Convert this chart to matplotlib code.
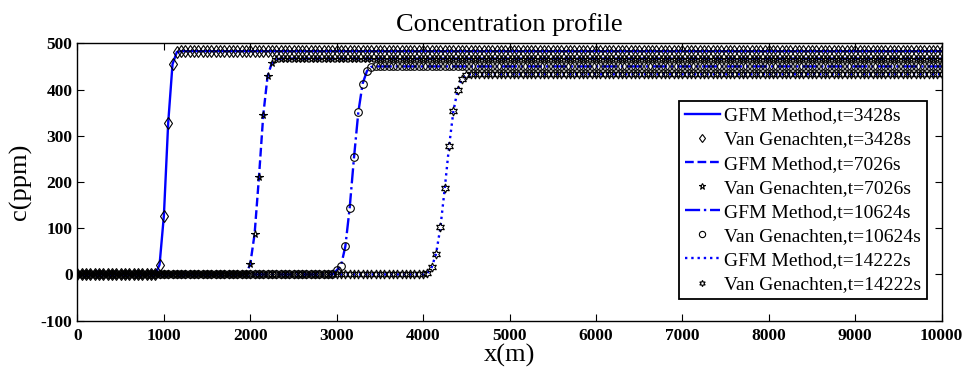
import numpy as np
import matplotlib
matplotlib.use("Agg")
import matplotlib.pyplot as plt

plt.rcParams['font.family'] = ['Liberation Serif', 'DejaVu Serif']
plt.rcParams['axes.unicode_minus'] = False

# ---- data ----
x_grid = np.arange(0, 10001, 50)          # sample positions (m)

times = ["3428s", "7026s", "10624s", "14222s"]

front1_x = [950, 1000, 1050, 1100, 1150]
front1_c = [21, 127, 328, 455, 481]
plateau1 = 483

front2_x = [2000, 2050, 2100, 2150, 2200, 2250, 2300]
front2_c = [23, 88, 210, 345, 429, 458, 465]
plateau2 = 467

front3_x = [3000, 3050, 3100, 3150, 3200, 3250, 3300, 3350, 3400]
front3_c = [9, 19, 61, 144, 253, 351, 413, 440, 449]
plateau3 = 450

front4_x = [4050, 4100, 4150, 4200, 4250, 4300, 4350, 4400, 4450, 4500]
front4_c = [3, 16, 45, 102, 186, 277, 353, 400, 423, 431]
plateau4 = 433

x_ticks = list(range(0, 10001, 1000))
y_ticks = list(range(-100, 501, 100))


def build(front_x, front_c, plateau):
    c = np.where(x_grid < front_x[0], 0.0, float(plateau))
    for xv, cv in zip(front_x, front_c):
        c[x_grid == xv] = cv
    return c


series = [
    build(front1_x, front1_c, plateau1),
    build(front2_x, front2_c, plateau2),
    build(front3_x, front3_c, plateau3),
    build(front4_x, front4_c, plateau4),
]

line_styles = ['-', '--', '-.', ':']
markers = ['d', '*', 'o', (6, 1, 0)]
marker_sizes = [6, 5.5, 5.5, 6.5]

fig = plt.figure(figsize=(9.67, 3.67), dpi=100)
ax = fig.add_axes([0.0801, 0.1262, 0.8937, 0.7558])

handles = []
for i, c in enumerate(series):
    l, = ax.plot(x_grid, c, color=(0, 0, 1), linestyle=line_styles[i], linewidth=1.7,
                 label=f"GFM Method,t={times[i]}", zorder=2)
    m, = ax.plot(x_grid, c, linestyle='none', marker=markers[i], markersize=marker_sizes[i],
                 markerfacecolor='none', markeredgecolor='black', markeredgewidth=0.8,
                 label=f"Van Genachten,t={times[i]}", zorder=3)
    handles += [l, m]

ax.set_xlim(0, 10000)
ax.set_ylim(-100, 500)
ax.set_xticks(x_ticks)
ax.set_yticks(y_ticks)
ax.tick_params(direction='in', length=5, width=0.8, top=True, right=True,
               labelsize=12.5)
ax.tick_params(axis='x', pad=5)
ax.tick_params(axis='y', pad=3.5)
for lab in ax.get_xticklabels() + ax.get_yticklabels():
    lab.set_fontweight('bold')
for sp in ax.spines.values():
    sp.set_linewidth(1.0)

ax.set_title("Concentration profile", fontsize=19, pad=9)
ax.set_xlabel("x(m)", fontsize=19)
ax.xaxis.set_label_coords(0.5, -0.083)
ax.set_ylabel("c(ppm)", fontsize=19)
ax.yaxis.set_label_coords(-0.0527, 0.5)

leg = ax.legend(handles=handles, loc='upper left', bbox_to_anchor=(679 / 967, 1 - 101 / 367),
                bbox_transform=fig.transFigure, fontsize=14, frameon=True, fancybox=False,
                edgecolor='black', framealpha=1, handlelength=1.8, handletextpad=0.2,
                labelspacing=0.335, borderpad=0.3, borderaxespad=0, numpoints=1)
leg.get_frame().set_linewidth(1.3)
for h in leg.legend_handles:
    if h.get_marker() not in (None, 'None', ''):
        h.set_markersize(4.5)

fig.savefig("out.png", dpi=100)
